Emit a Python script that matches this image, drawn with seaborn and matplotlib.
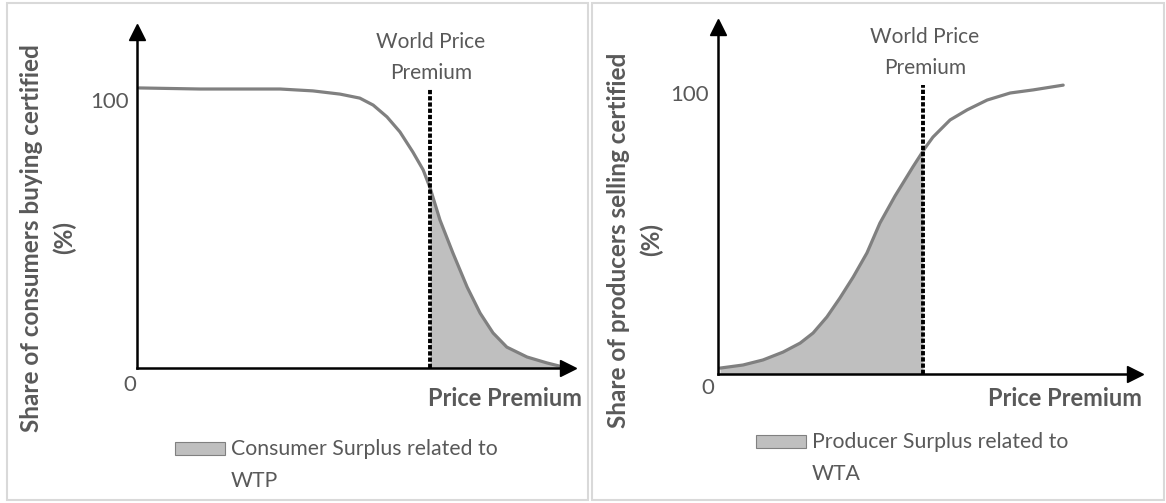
import numpy as np
import matplotlib
matplotlib.use('Agg')
import matplotlib.pyplot as plt
from matplotlib.patches import Rectangle
import seaborn as sns

# consumer side: share of consumers buying certified vs price premium (WTP)
wtp_premium = [0.5, 14.6, 26.2, 33.2, 40.8, 47.1, 51.7, 54.8, 58.0, 61.0, 64.0, 66.4, 68.0,
               70.3, 73.3, 76.6, 79.6, 82.6, 85.8, 90.5, 95.1, 98.8]
wtp_share = [104.5, 104.1, 104.1, 104.1, 103.4, 102.2, 100.7, 98.1, 93.7, 88.1, 80.6, 73.9, 67.2,
             55.2, 42.9, 30.2, 20.5, 13.1, 7.8, 4.1, 1.9, 0.4]
wtp_world_price = 68.0

# producer side: share of producers selling certified vs price premium (WTA)
wta_premium = [0.6, 6.1, 10.9, 15.7, 19.8, 22.9, 26.2, 29.3, 32.5, 35.8, 38.9, 42.5, 46.8, 49.7,
               51.6, 55.7, 59.8, 64.6, 70.1, 75.6, 82.8]
wta_share = [2.1, 3.2, 5.0, 7.8, 11.0, 14.6, 20.3, 27.0, 34.5, 43.1, 53.7, 63.3, 73.7, 80.4,
             84.3, 90.4, 94.0, 97.5, 100.0, 101.1, 102.8]
wta_world_price = 49.2

sns.set_style('white')
plt.rcParams['font.family'] = ['Lato', 'DejaVu Sans']

W, H = 1166, 503
TXT = '#595959'
CURVE = '#808080'
FILL = '#BFBFBF'

fig = plt.figure(figsize=(W / 100, H / 100), dpi=100)


def fx(px):
    return px / W


def fy(py):
    return 1 - py / H


def panel(rect, xs, ys, world, top, ymax, fill_right, ylabel, legend_txt, spots):
    x0, y0, x1, y1 = rect
    ax = fig.add_axes([fx(x0), fy(y0), fx(x1) - fx(x0), fy(y1) - fy(y0)])
    sns.lineplot(x=xs, y=ys, ax=ax, color=CURVE, linewidth=2.3, sort=False)
    ax.lines[-1].set_solid_joinstyle('round')

    xs = np.array(xs)
    ys = np.array(ys)
    yw = np.interp(world, xs, ys)
    if fill_right:
        m = xs > world
        fxs = np.r_[world, xs[m]]
        fys = np.r_[yw, ys[m]]
    else:
        m = xs < world
        fxs = np.r_[xs[m], world]
        fys = np.r_[ys[m], yw]
    ax.fill_between(fxs, 0, fys, color=FILL, linewidth=0)
    ax.vlines(world, 0, top, color='black', linewidth=2.8, linestyles=(0, (1.1, 0.5)))

    ax.set_xlim(0, 100)
    ax.set_ylim(0, ymax)
    sns.despine(ax=ax)
    for s in ['left', 'bottom']:
        ax.spines[s].set_linewidth(1.8)
        ax.spines[s].set_color('black')
    ax.set_xticks([])
    ax.set_yticks([100])
    ax.set_yticklabels(['100'])
    ax.tick_params(axis='y', length=0, pad=6, labelsize=16, labelcolor=TXT)
    ax.plot(1, 0, '>', color='black', ms=11, transform=ax.transAxes, clip_on=False)
    ax.plot(0, 1, '^', color='black', ms=11, transform=ax.transAxes, clip_on=False)

    # labels placed around the panel
    fig.text(fx(spots['zero'][0]), fy(spots['zero'][1]), '0', ha='right', va='center',
             fontsize=16, color=TXT)
    fig.text(fx(spots['world'][0]), fy(spots['world'][1]), 'World Price\nPremium', ha='center',
             va='center', fontsize=15, color=TXT, linespacing=1.7)
    fig.text(fx(spots['xlab'][0]), fy(spots['xlab'][1]), 'Price Premium', ha='right', va='center',
             fontsize=17, fontweight='bold', color=TXT)
    fig.text(fx(spots['ylab'][0]), fy(spots['ylab'][1]), ylabel, ha='center', va='center',
             rotation=90, fontsize=17.5, fontweight='bold', color=TXT, linespacing=1.5)
    lx, ly = spots['leg']
    fig.patches.append(Rectangle((fx(lx), fy(ly + 7)), fx(50), 13 / H, transform=fig.transFigure,
                                 facecolor=FILL, edgecolor=CURVE, linewidth=0.8))
    fig.text(fx(lx + 56), fy(ly - 9), legend_txt, ha='left', va='top', fontsize=15.3, color=TXT,
             linespacing=1.72)
    return ax


# panel frames
fig.patches.append(Rectangle((fx(7), fy(500)), fx(581), 497 / H, transform=fig.transFigure,
                             facecolor='none', edgecolor='#D9D9D9', linewidth=1.5))
fig.patches.append(Rectangle((fx(592), fy(500)), fx(572), 497 / H, transform=fig.transFigure,
                             facecolor='none', edgecolor='#D9D9D9', linewidth=1.5))

panel((137, 368, 568, 32), wtp_premium, wtp_share, wtp_world_price, 104.5, (368 - 32) / 2.68, True,
      'Share of consumers buying certified\n(%)', 'Consumer Surplus related to\nWTP',
      {'zero': (136, 385), 'world': (431, 57.5), 'xlab': (582, 398), 'ylab': (48, 238),
       'leg': (175, 448)})

panel((717.5, 374, 1135, 27), wta_premium, wta_share, wta_world_price, 102.8, (374 - 27) / 2.81,
      False, 'Share of producers selling certified\n(%)', 'Producer Surplus related to\nWTA',
      {'zero': (714, 388), 'world': (925, 52.5), 'xlab': (1142, 398), 'ylab': (635, 240),
       'leg': (756, 441)})

fig.savefig('out.png', dpi=100)
